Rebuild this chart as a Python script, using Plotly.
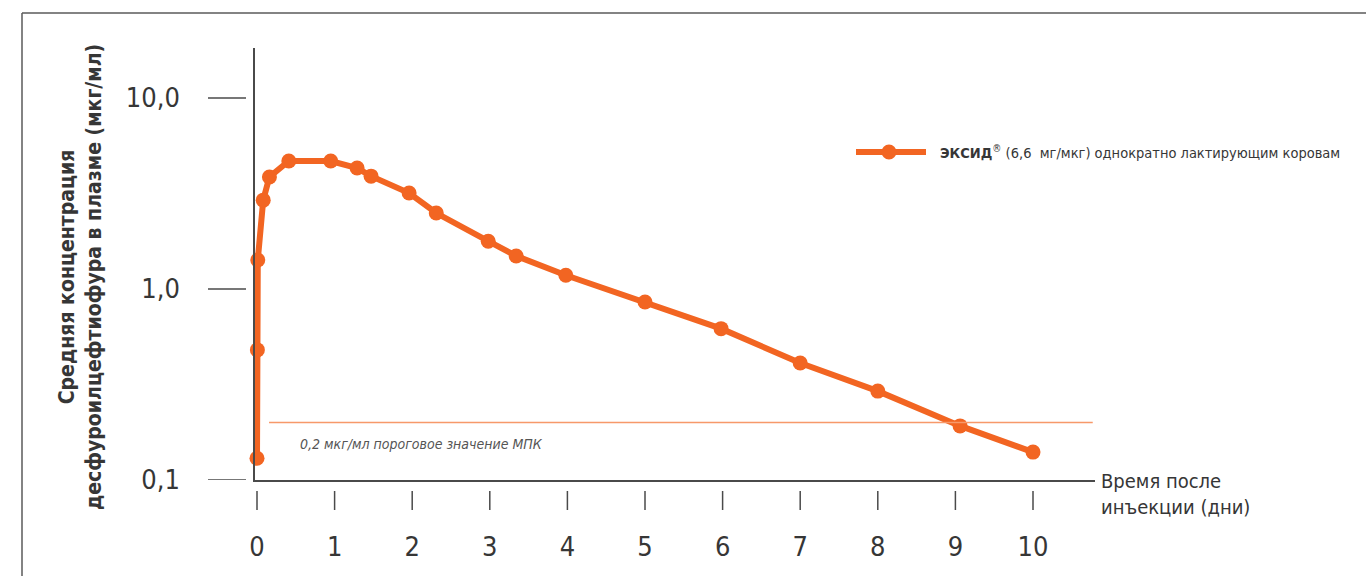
import plotly.graph_objects as go

# Plasma concentration of desfuroylceftiofur after a single injection
days = [0.0, 0.005, 0.01, 0.08, 0.16, 0.41, 0.95, 1.29, 1.47, 1.96, 2.31,
        2.98, 3.34, 3.98, 5.0, 5.98, 7.0, 8.0, 9.06, 10.0]
conc = [0.13, 0.48, 1.42, 2.92, 3.86, 4.68, 4.68, 4.30, 3.90, 3.18, 2.50,
        1.78, 1.49, 1.18, 0.855, 0.62, 0.41, 0.292, 0.192, 0.14]

mic_threshold = 0.2
x_ticks = list(range(0, 11))
y_ticks = [0.1, 1.0, 10.0]
y_tick_labels = ["0,1", "1,0", "10,0"]

ORANGE = "#f26522"
ORANGE_LIGHT = "#f7996a"
AXIS = "#4a4a4a"
TEXT = "#363636"
FONT = "Liberation Sans Narrow, DejaVu Sans Condensed, Arial Narrow, sans-serif"

# plot-area geometry in pixels
L, R, T, B = 255, 271, 48, 96
W, H = 1366, 576
PW, PH = W - L - R, H - T - B


def px(x):
    return (x - L) / PW


def py(y):
    return (H - B - y) / PH


fig = go.Figure()

fig.add_trace(go.Scatter(
    x=days, y=conc, mode="lines+markers",
    line=dict(color=ORANGE, width=6),
    marker=dict(color=ORANGE, size=15),
    cliponaxis=False, showlegend=False, hoverinfo="x+y",
))

shapes = []

# MIC threshold line
shapes.append(dict(type="line", xref="x", yref="y", x0=0.155, x1=10.77,
                   y0=mic_threshold, y1=mic_threshold,
                   line=dict(color=ORANGE_LIGHT, width=1.5)))

# detached y tick marks
for v in y_ticks:
    shapes.append(dict(type="line", xref="paper", yref="y",
                       x0=px(208), x1=px(246), y0=v, y1=v,
                       line=dict(color=AXIS, width=1.5)))

# detached x tick marks
for v in x_ticks:
    shapes.append(dict(type="line", xref="x", yref="paper",
                       x0=v, x1=v, y0=py(491), y1=py(510),
                       line=dict(color=AXIS, width=1.5)))

# outer frame (top and left edges)
shapes.append(dict(type="line", xref="paper", yref="paper",
                   x0=px(22), x1=px(1370), y0=py(13), y1=py(13),
                   line=dict(color="#5a5a5a", width=1.5)))
shapes.append(dict(type="line", xref="paper", yref="paper",
                   x0=px(22), x1=px(22), y0=py(13), y1=py(580),
                   line=dict(color="#5a5a5a", width=1.5)))

# legend sample
shapes.append(dict(type="line", xref="paper", yref="paper",
                   x0=px(856), x1=px(926), y0=py(152), y1=py(152),
                   line=dict(color=ORANGE, width=6)))
shapes.append(dict(type="circle", xref="paper", yref="paper",
                   x0=px(881.5), x1=px(896.5), y0=py(144.5), y1=py(159.5),
                   fillcolor=ORANGE, line=dict(color=ORANGE, width=0)))

annotations = [
    dict(xref="paper", yref="paper", x=px(938), y=py(152),
         xanchor="left", yanchor="middle", showarrow=False,
         text="<b>ЭКСИД</b><sup>®</sup> (6,6  мг/мкг) однократно лактирующим коровам",
         font=dict(family=FONT, size=14.5, color=TEXT)),
    dict(xref="x", yref="paper", x=0.53, y=py(444),
         xanchor="left", yanchor="middle", showarrow=False,
         text="<i>0,2 мкг/мл пороговое значение МПК</i>",
         font=dict(family=FONT, size=14, color="#555555")),
    dict(xref="paper", yref="paper", x=px(1099), y=py(494),
         xanchor="left", yanchor="middle", showarrow=False, align="left",
         text="Время после<br>инъекции (дни)",
         font=dict(family=FONT, size=20, color=TEXT)),
    dict(xref="paper", yref="paper", x=px(80), y=py(277),
         xanchor="center", yanchor="middle", showarrow=False, textangle=-90,
         text="<b>Средняя концентрация<br>десфуроилцефтиофура в плазме (мкг/мл)</b>",
         font=dict(family=FONT, size=21, color=TEXT)),
]

x0 = -2 / 77.6
x1 = x0 + PW / 77.6
fig.update_layout(
    width=W, height=H, autosize=False,
    margin=dict(l=L, r=R, t=T, b=B, pad=0),
    paper_bgcolor="white", plot_bgcolor="white",
    shapes=shapes, annotations=annotations,
    xaxis=dict(range=[x0, x1], showgrid=False, zeroline=False,
               showline=True, linecolor=AXIS, linewidth=1.5,
               tickvals=x_ticks, ticks="", ticklabelstandoff=42,
               tickfont=dict(family=FONT, size=27, color=TEXT)),
    yaxis=dict(type="log", range=[-1, 1.262], showgrid=False, zeroline=False,
               showline=True, linecolor=AXIS, linewidth=1.5,
               tickvals=y_ticks, ticktext=y_tick_labels, ticks="",
               ticklabelstandoff=68,
               tickfont=dict(family=FONT, size=27, color=TEXT)),
)

fig.write_html("out.html")
